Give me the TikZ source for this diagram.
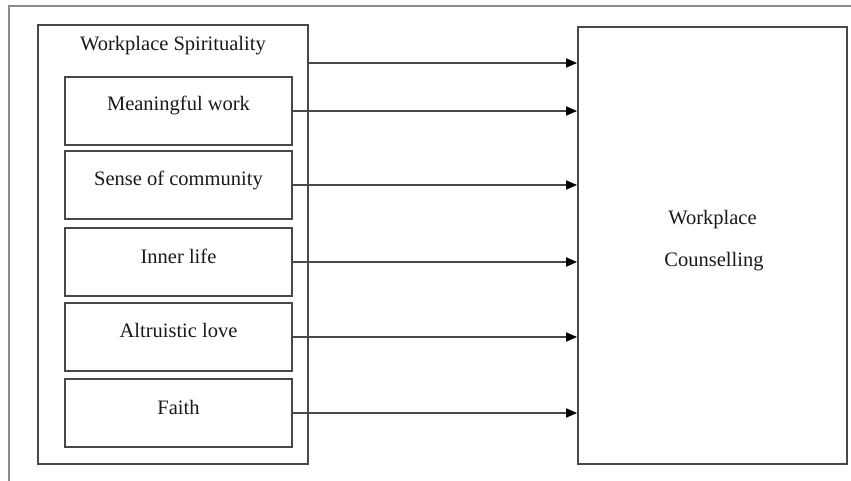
\documentclass[tikz,border=0pt]{standalone}
\usepackage{fontspec}
\setmainfont{Liberation Serif}
\usetikzlibrary{arrows.meta,calc}
\definecolor{linegray}{HTML}{484848}
\definecolor{framegray}{HTML}{8A8A8A}
\begin{document}
\begin{tikzpicture}[x=1pt,y=-1pt,
  box/.style={draw=linegray,line width=1.8pt,minimum width=227pt,inner sep=0pt},
  grp/.style={draw=linegray,line width=1.8pt,minimum width=270pt,minimum height=439pt,inner sep=0pt},
  txt/.style={font=\fontsize{20.5}{24}\selectfont,text=black!90,inner sep=0pt},
  arr/.style={draw=linegray,line width=1.8pt,-{Triangle[length=11pt,width=9pt,color=black]}}]
\useasboundingbox (0,0) rectangle (851,481);
\fill[white] (0,0) rectangle (851,481);
% outer frame
\draw[framegray,line width=1.5pt] (9,481) -- (9,6) -- (851,6);
% group box
\node[grp] (ws) at (173,244.5) {};
\node[txt] (wst) at (173,46) {Workplace Spirituality};
% inner boxes
\node[box,minimum height=68pt] (b1) at (178.5,111) {};
\node[box,minimum height=68pt] (b2) at (178.5,185) {};
\node[box,minimum height=68pt] (b3) at (178.5,262) {};
\node[box,minimum height=68pt] (b4) at (178.5,337) {};
\node[box,minimum height=68pt] (b5) at (178.5,413) {};
\node[txt] (t1) at (178.5,105) {Meaningful work};
\node[txt] (t2) at (178.5,180) {Sense of community};
\node[txt] (t3) at (178.5,256) {Inner life};
\node[txt] (t4) at (178.5,330) {Altruistic love};
\node[txt] (t5) at (178.5,407) {Faith};
% right box
\node[draw=linegray,line width=1.8pt,minimum width=269pt,minimum height=437pt,inner sep=0pt] (rb) at (712.5,245.5) {};
\node[txt] (rt1) at (712.5,220) {Workplace};
\node[txt] (rt2) at (714,262) {Counselling};
% arrows
\coordinate (a0) at (308,63);
\draw[arr] (a0) -- (rb.west |- a0);
\draw[arr] (b1.east) -- (rb.west |- b1.east);
\draw[arr] (b2.east) -- (rb.west |- b2.east);
\draw[arr] (b3.east) -- (rb.west |- b3.east);
\draw[arr] (b4.east) -- (rb.west |- b4.east);
\draw[arr] (b5.east) -- (rb.west |- b5.east);
\end{tikzpicture}
\end{document}
